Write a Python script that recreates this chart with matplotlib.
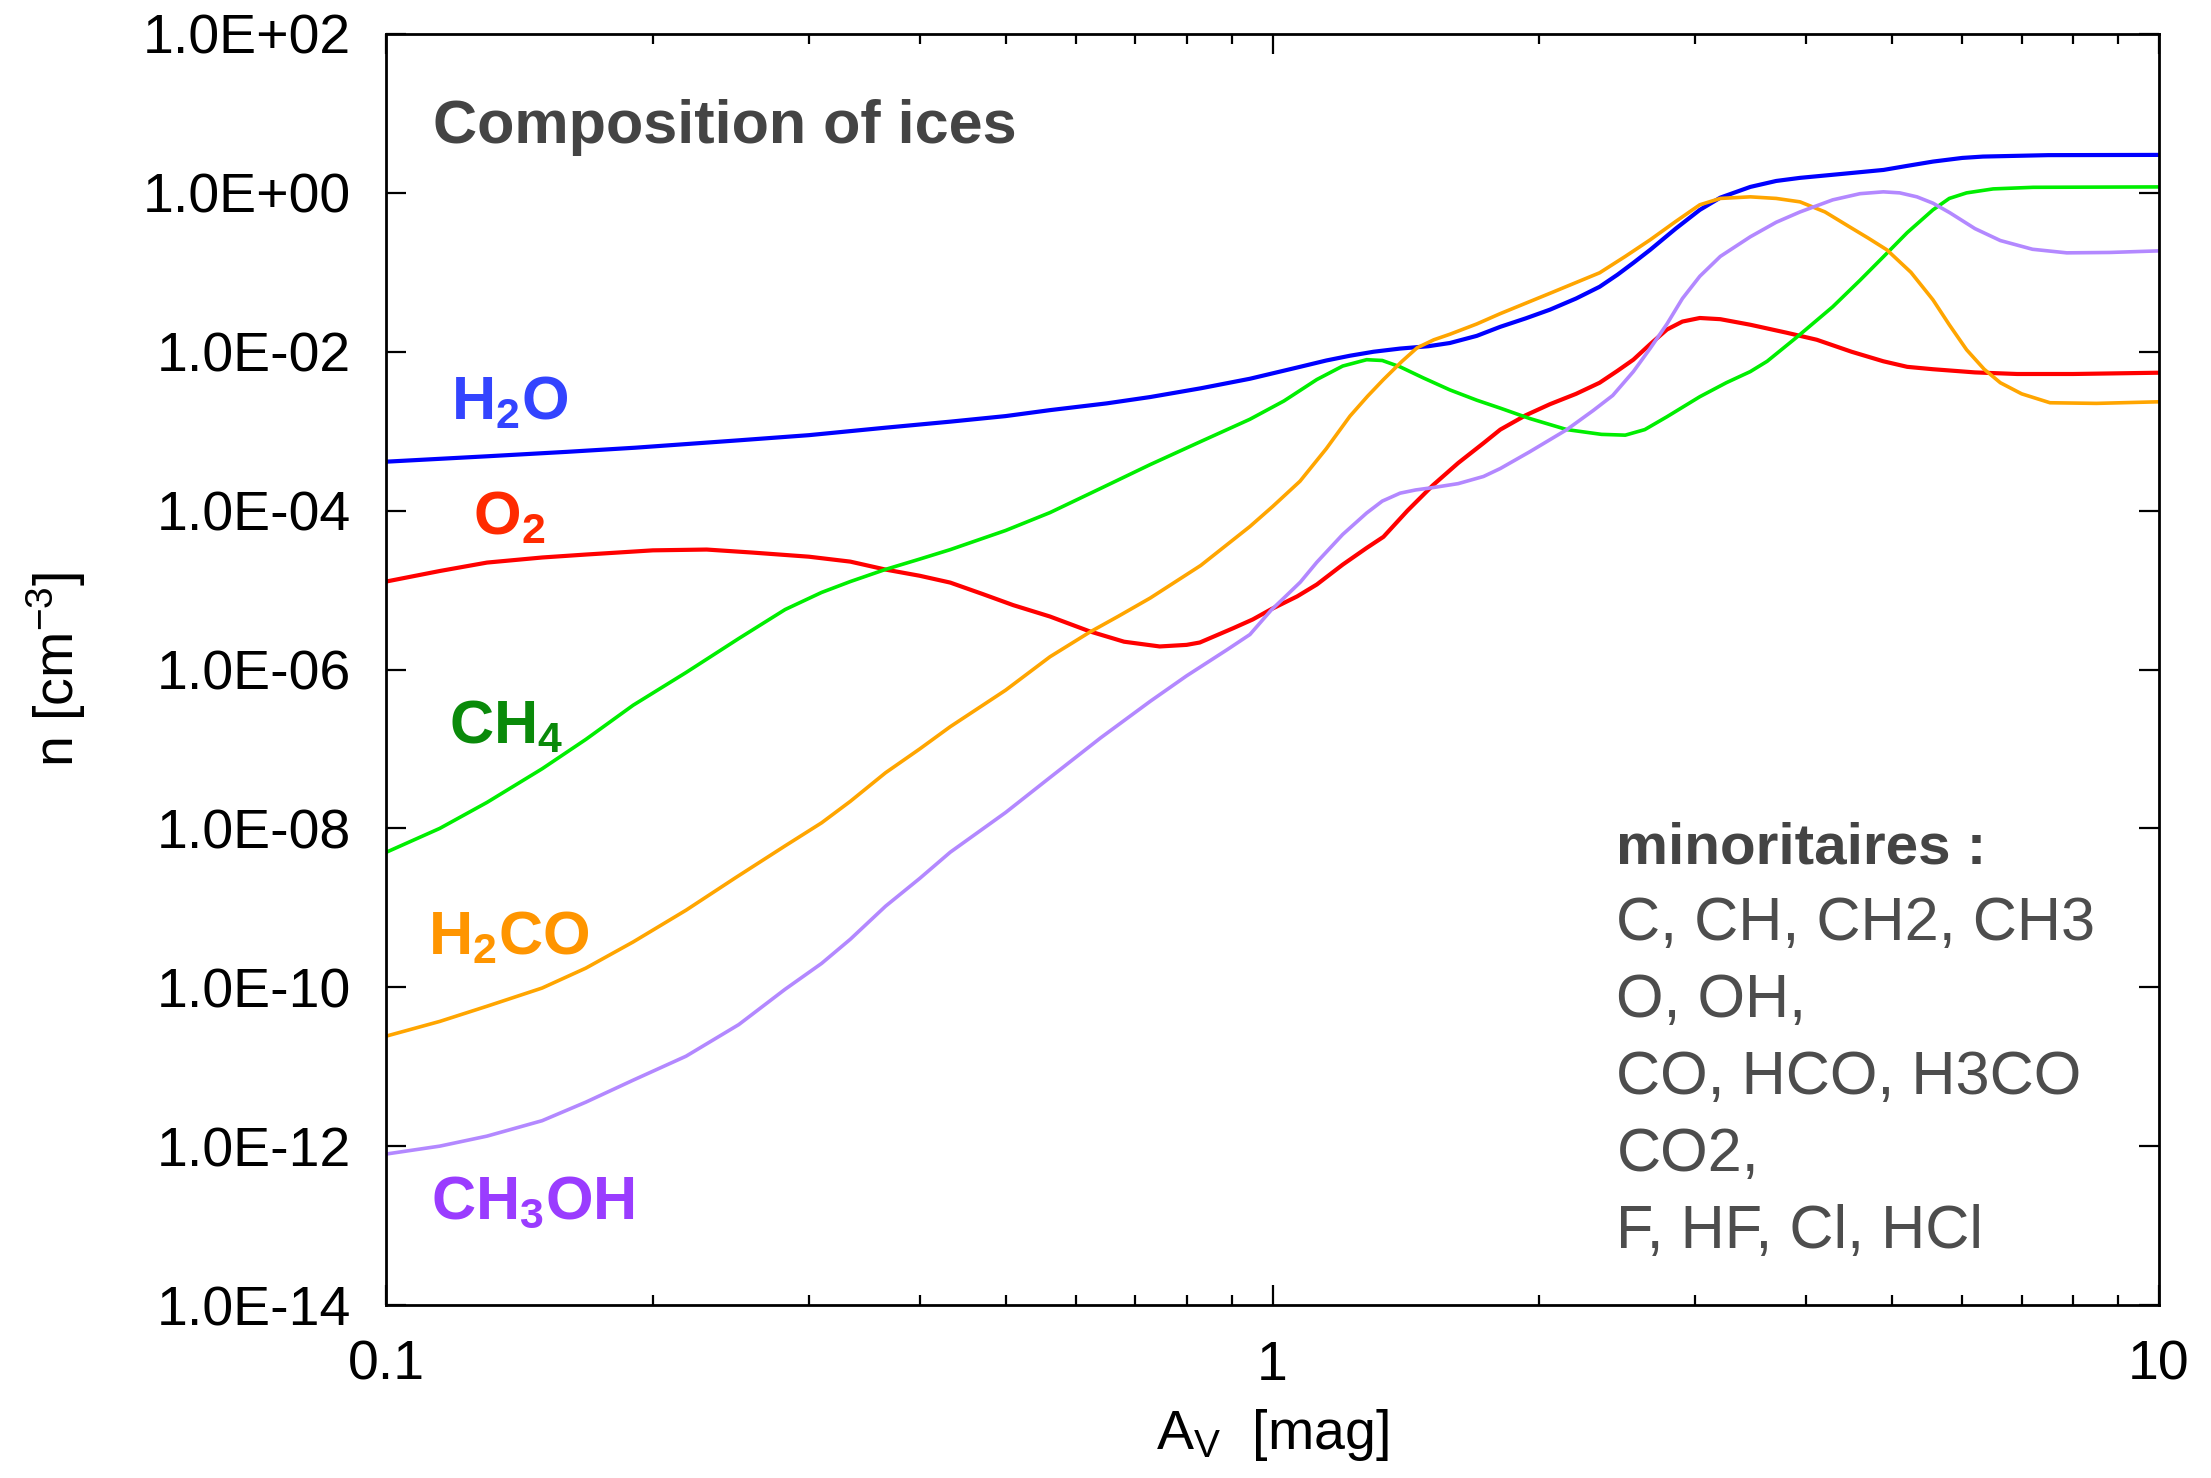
import matplotlib
matplotlib.use("Agg")
import numpy as np
import matplotlib.pyplot as plt
from matplotlib.ticker import FuncFormatter, LogLocator, NullLocator, NullFormatter

plt.rcParams['font.family'] = ['Liberation Sans', 'DejaVu Sans']
plt.rcParams['mathtext.default'] = 'regular'

# A_V [mag] and log10 of the ice density n [cm^-3] for each species
av_h2o = [0.100, 0.130, 0.160, 0.191, 0.250, 0.300, 0.366, 0.433, 0.500, 0.561, 0.650,
          0.728, 0.830, 0.943, 1.074, 1.150, 1.223, 1.300, 1.393, 1.500, 1.585, 1.700,
          1.807, 1.930, 2.056, 2.200, 2.339, 2.450, 2.553, 2.667, 2.850, 3.034, 3.200,
          3.459, 3.700, 3.936, 4.400, 4.890, 5.200, 5.560, 6.000, 6.330, 7.500, 10.0]
logn_h2o = [-3.384, -3.316, -3.26, -3.208, -3.115, -3.05, -2.956, -2.88, -2.81, -2.735, -2.65,
            -2.57, -2.46, -2.34, -2.19, -2.11, -2.05, -2.00, -1.96, -1.93, -1.89, -1.80,
            -1.686, -1.58, -1.47, -1.33, -1.182, -1.03, -0.881, -0.717, -0.45, -0.214, -0.06,
            0.075, 0.15, 0.189, 0.24, 0.289, 0.34, 0.394, 0.44, 0.457, 0.475, 0.478]

av_o2 = [0.100, 0.115, 0.130, 0.150, 0.168, 0.200, 0.230, 0.259, 0.300, 0.334, 0.366,
         0.400, 0.433, 0.471, 0.510, 0.561, 0.622, 0.680, 0.746, 0.800, 0.828, 0.903,
         0.950, 0.997, 1.066, 1.122, 1.200, 1.277, 1.334, 1.420, 1.517, 1.620, 1.730,
         1.807, 1.930, 2.056, 2.200, 2.339, 2.450, 2.553, 2.670, 2.786, 2.900, 3.034,
         3.200, 3.459, 3.800, 4.111, 4.500, 4.887, 5.200, 5.559, 6.200, 6.918, 8.000, 10.0]
logn_o2 = [-4.893, -4.76, -4.654, -4.59, -4.553, -4.50, -4.49, -4.528, -4.58, -4.642, -4.742,
           -4.82, -4.906, -5.05, -5.19, -5.333, -5.52, -5.65, -5.71, -5.69, -5.66, -5.48,
           -5.37, -5.24, -5.08, -4.93, -4.68, -4.47, -4.33, -4.00, -3.68, -3.40, -3.15,
           -2.98, -2.80, -2.66, -2.53, -2.39, -2.24, -2.10, -1.90, -1.72, -1.62, -1.575,
           -1.59, -1.66, -1.76, -1.849, -2.00, -2.12, -2.19, -2.22, -2.26, -2.28, -2.28, -2.264]

av_ch4 = [0.100, 0.115, 0.130, 0.150, 0.168, 0.190, 0.218, 0.250, 0.282, 0.310, 0.334,
          0.366, 0.400, 0.433, 0.500, 0.561, 0.640, 0.728, 0.830, 0.943, 1.030, 1.122,
          1.200, 1.277, 1.330, 1.393, 1.480, 1.585, 1.700, 1.807, 1.950, 2.148, 2.350,
          2.500, 2.630, 2.786, 3.034, 3.250, 3.459, 3.614, 3.900, 4.285, 4.600, 4.887,
          5.200, 5.559, 5.800, 6.067, 6.500, 7.211, 10.0]
logn_ch4 = [-8.302, -8.00, -7.673, -7.25, -6.881, -6.45, -6.038, -5.61, -5.245, -5.03, -4.893,
            -4.74, -4.61, -4.491, -4.25, -4.025, -3.72, -3.42, -3.13, -2.85, -2.62, -2.35,
            -2.18, -2.10, -2.11, -2.19, -2.33, -2.48, -2.61, -2.71, -2.84, -2.98, -3.04,
            -3.05, -2.98, -2.818, -2.566, -2.39, -2.25, -2.12, -1.82, -1.434, -1.10, -0.805,
            -0.50, -0.214, -0.07, 0.0, 0.05, 0.07, 0.075]

av_h2co = [0.100, 0.115, 0.130, 0.150, 0.168, 0.190, 0.218, 0.248, 0.282, 0.310, 0.334,
           0.366, 0.400, 0.433, 0.500, 0.561, 0.622, 0.670, 0.728, 0.830, 0.943, 1.000,
           1.074, 1.150, 1.223, 1.280, 1.334, 1.400, 1.456, 1.520, 1.585, 1.700, 1.807,
           2.050, 2.339, 2.500, 2.667, 2.850, 3.034, 3.200, 3.459, 3.700, 3.936, 4.200,
           4.477, 4.700, 4.932, 5.250, 5.559, 5.800, 6.067, 6.350, 6.622, 7.000, 7.534,
           8.500, 10.0]
logn_h2co = [-10.616, -10.43, -10.239, -10.01, -9.76, -9.43, -9.03, -8.62, -8.22, -7.93, -7.66,
             -7.30, -7.00, -6.72, -6.26, -5.84, -5.53, -5.33, -5.10, -4.69, -4.20, -3.95,
             -3.63, -3.22, -2.81, -2.56, -2.35, -2.12, -1.95, -1.85, -1.78, -1.65, -1.52,
             -1.27, -1.006, -0.80, -0.591, -0.36, -0.15, -0.07, -0.050, -0.07, -0.113, -0.24,
             -0.428, -0.57, -0.717, -1.00, -1.346, -1.66, -1.975, -2.22, -2.39, -2.53, -2.642,
             -2.65, -2.63]

av_ch3oh = [0.100, 0.115, 0.130, 0.150, 0.168, 0.190, 0.218, 0.250, 0.282, 0.310, 0.334,
            0.366, 0.400, 0.433, 0.500, 0.561, 0.640, 0.728, 0.800, 0.889, 0.943, 0.997,
            1.030, 1.075, 1.122, 1.200, 1.277, 1.330, 1.393, 1.450, 1.517, 1.620, 1.730,
            1.807, 1.950, 2.148, 2.300, 2.420, 2.553, 2.670, 2.786, 2.900, 3.034, 3.200,
            3.459, 3.700, 3.936, 4.285, 4.600, 4.887, 5.100, 5.333, 5.560, 5.808, 6.200,
            6.622, 7.200, 7.870, 8.800, 10.0]
logn_ch3oh = [-12.10, -12.00, -11.874, -11.68, -11.447, -11.17, -10.868, -10.47, -10.025, -9.70,
              -9.396, -8.98, -8.63, -8.30, -7.80, -7.36, -6.86, -6.40, -6.08, -5.75, -5.56,
              -5.25, -5.10, -4.90, -4.65, -4.30, -4.03, -3.88, -3.78, -3.74, -3.71, -3.66,
              -3.57, -3.47, -3.26, -2.98, -2.74, -2.55, -2.25, -1.95, -1.65, -1.33, -1.05,
              -0.80, -0.553, -0.37, -0.24, -0.088, -0.01, 0.013, 0.0, -0.05, -0.13, -0.25,
              -0.45, -0.60, -0.71, -0.755, -0.75, -0.730]

minor_species = ["C, CH, CH2, CH3", "O, OH,", "CO, HCO, H3CO", "CO2,", "F, HF, Cl, HCl"]

fig = plt.figure(figsize=(22.11, 14.78), dpi=100)
ax = fig.add_axes([386 / 2211, 1 - 1305 / 1478, 1773 / 2211, 1271 / 1478])

ax.plot(av_h2o, 10.0 ** np.array(logn_h2o), color='#0000ff', lw=3.0)
ax.plot(av_o2, 10.0 ** np.array(logn_o2), color='#ff0000', lw=3.0)
ax.plot(av_ch4, 10.0 ** np.array(logn_ch4), color='#00ee00', lw=2.6)
ax.plot(av_h2co, 10.0 ** np.array(logn_h2co), color='#ffa500', lw=2.6)
ax.plot(av_ch3oh, 10.0 ** np.array(logn_ch3oh), color='#b388ff', lw=2.6)

ax.set_xscale('log')
ax.set_yscale('log')
ax.set_xlim(0.1, 10)
ax.set_ylim(1e-14, 1e2)

ax.set_yticks([10.0 ** k for k in range(-14, 3, 2)])
ax.yaxis.set_minor_locator(NullLocator())
ax.yaxis.set_major_formatter(FuncFormatter(lambda v, p: '%.1E' % v))
ax.xaxis.set_major_locator(LogLocator(base=10))
ax.xaxis.set_minor_locator(LogLocator(base=10, subs=range(2, 10)))
ax.xaxis.set_minor_formatter(NullFormatter())
ax.xaxis.set_major_formatter(FuncFormatter(lambda v, p: '%g' % v))

ax.tick_params(which='both', direction='in', top=True, right=True, width=1.6,
               labelsize=40, colors='black')
ax.tick_params(which='major', length=14.4)
ax.tick_params(which='minor', length=7.2)
ax.tick_params(axis='x', pad=25)
ax.tick_params(axis='y', pad=25)
for s in ax.spines.values():
    s.set_linewidth(2.0)

ax.set_ylabel(r'n [cm$^{-3}$]', fontsize=40)
ax.yaxis.set_label_coords(-0.168, 0.5)
ax.set_xlabel(r'A$_V$  [mag]', fontsize=40)
ax.xaxis.set_label_coords(0.5, -0.08)

ax.text(0.0265, 0.914, 'Composition of ices', transform=ax.transAxes, fontsize=44,
        fontweight='bold', color='#444444', va='baseline')

# species labels
lab = dict(transform=ax.transAxes, fontsize=44, fontweight='bold', va='baseline')
ax.text(0.0367, 0.697, r'H$_2$O', color='#3344ff', **lab)
ax.text(0.049, 0.6066, r'O$_2$', color='#ff2a00', **lab)
ax.text(0.0355, 0.442, r'CH$_4$', color='#0a8a0a', **lab)
ax.text(0.0237, 0.276, r'H$_2$CO', color='#ff9500', **lab)
ax.text(0.0254, 0.0684, r'CH$_3$OH', color='#9a3cff', **lab)

ax.text(0.694, 0.347, 'minoritaires :', transform=ax.transAxes, fontsize=42,
        fontweight='bold', color='#444444', va='baseline')
y = 0.287
for line in minor_species:
    ax.text(0.694, y, line, transform=ax.transAxes, fontsize=44, color='#4d4d4d', va='baseline')
    y -= 0.0606

fig.savefig('out.png', dpi=100)
